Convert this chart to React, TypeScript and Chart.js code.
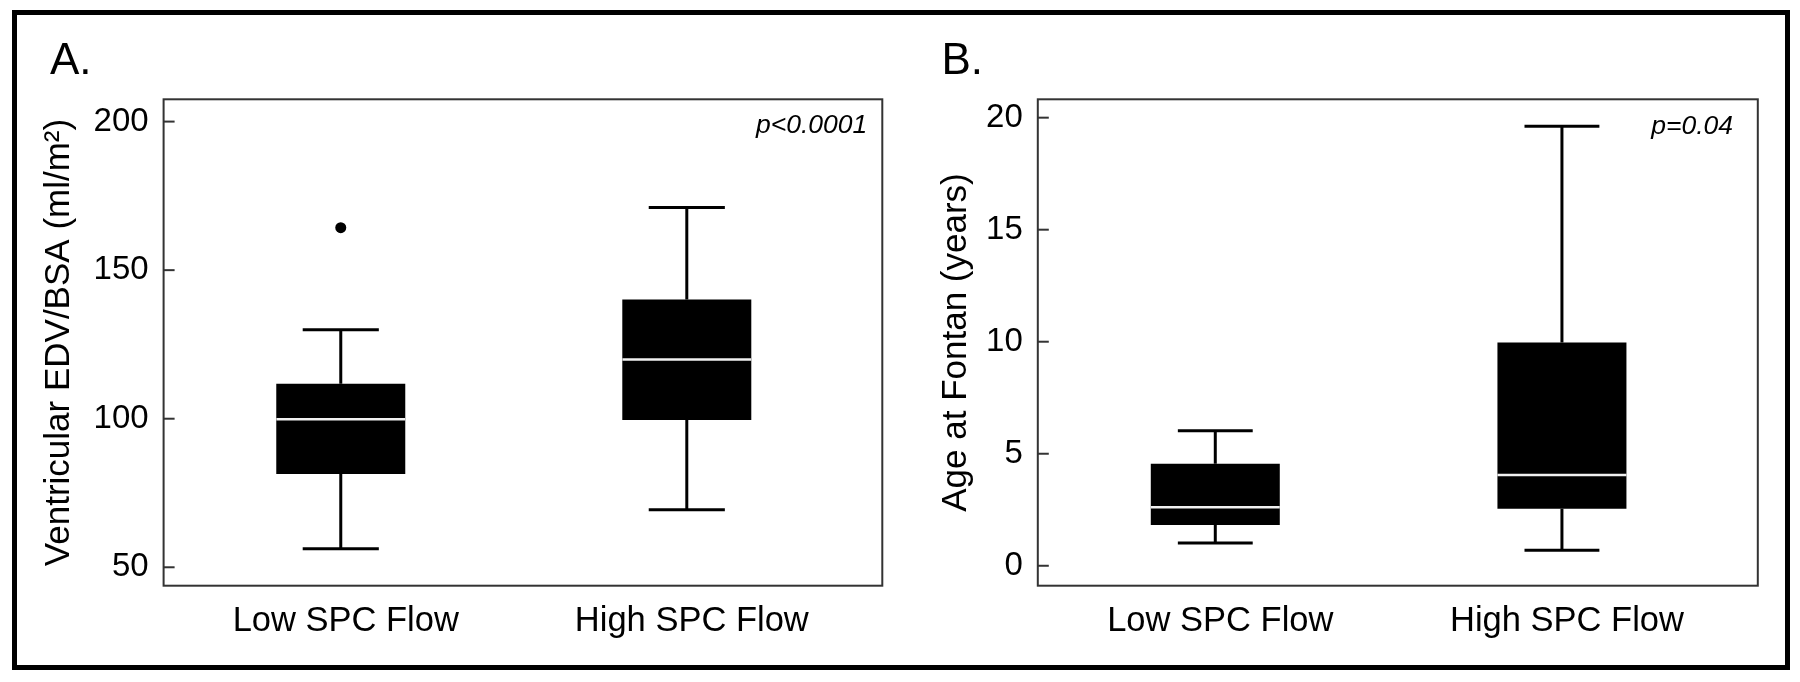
import React, { useEffect, useRef } from "react";
import { Chart, registerables } from "chart.js";

Chart.register(...registerables);

const FONT = "'Liberation Sans', Arial, Helvetica, sans-serif";

// Categories (shared by both panels)
const categories = ["Low SPC Flow", "High SPC Flow"];
const categoryPositions = [1, 2];

// Panel A: Ventricular EDV/BSA (ml/m²)
const edvLowerWhisker = [56.2, 69.4];
const edvQ1 = [81.4, 99.6];
const edvMedian = [99.8, 119.9];
const edvQ3 = [111.8, 140.1];
const edvUpperWhisker = [129.9, 171.1];
const edvOutliers: number[][] = [[164.3], []];
const edvTicks = [50, 100, 150, 200];

// Panel B: Age at Fontan (years)
const ageLowerWhisker = [1.02, 0.69];
const ageQ1 = [1.82, 2.54];
const ageMedian = [2.61, 4.05];
const ageQ3 = [4.55, 9.97];
const ageUpperWhisker = [6.03, 19.62];
const ageOutliers: number[][] = [[], []];
const ageTicks = [0, 5, 10, 15, 20];

type PanelSpec = {
  letter: string;
  yTitle: string;
  lower: number[];
  q1: number[];
  median: number[];
  q3: number[];
  upper: number[];
  outliers: number[][];
  ticks: number[];
  yMin: number;
  yMax: number;
  pText: string;
  pInset: number;
  pBaseline: number;
  titlePad: number;
  yAxisWidth: number;
  padRight: number;
  capHalf: number[];
  canvasLeft: number;
  letterLeft: number;
};

const panels: PanelSpec[] = [
  {
    letter: "A.",
    yTitle: "Ventricular EDV/BSA (ml/m²)",
    lower: edvLowerWhisker,
    q1: edvQ1,
    median: edvMedian,
    q3: edvQ3,
    upper: edvUpperWhisker,
    outliers: edvOutliers,
    ticks: edvTicks,
    yMin: 43.8,
    yMax: 207.5,
    pText: "p<0.0001",
    pInset: 15,
    pBaseline: 33.7,
    titlePad: 37.9,
    yAxisWidth: 163.6,
    padRight: 17.7,
    capHalf: [0.11, 0.11],
    canvasLeft: 0,
    letterLeft: 50,
  },
  {
    letter: "B.",
    yTitle: "Age at Fontan (years)",
    lower: ageLowerWhisker,
    q1: ageQ1,
    median: ageMedian,
    q3: ageQ3,
    upper: ageUpperWhisker,
    outliers: ageOutliers,
    ticks: ageTicks,
    yMin: -0.89,
    yMax: 20.82,
    pText: "p=0.04",
    pInset: 24.7,
    pBaseline: 34.7,
    titlePad: 34.9,
    yAxisWidth: 137.8,
    padRight: 42.2,
    capHalf: [0.108, 0.108],
    canvasLeft: 900,
    letterLeft: 941.5,
  },
];

const X_MIN = 0.488;
const X_MAX = 2.565;
const BOX_HALF = 0.186;

const panelDecor = {
  id: "panelDecor",
  afterDraw(chart: any, _args: any, opts: any) {
    const { ctx, chartArea } = chart;
    const { left, top, right, bottom } = chartArea;
    ctx.save();
    ctx.strokeStyle = "#333";
    ctx.lineWidth = 2;
    ctx.strokeRect(left, top, right - left, bottom - top);
    const ys = chart.scales.y;
    ys.ticks.forEach((t: any) => {
      const py = ys.getPixelForValue(t.value);
      ctx.beginPath();
      ctx.moveTo(left, py);
      ctx.lineTo(left + 11, py);
      ctx.stroke();
    });
    ctx.font = `italic 26.5px ${FONT}`;
    ctx.fillStyle = "#000";
    ctx.textAlign = "right";
    ctx.textBaseline = "alphabetic";
    ctx.fillText(opts.text, right - opts.inset, top + opts.baseline);
    ctx.restore();
  },
};

function buildConfig(spec: PanelSpec): any {
  const datasets: any[] = [];
  datasets.push({
    type: "bar",
    data: categoryPositions.map((x, i) => ({ x, y: [spec.q1[i], spec.q3[i]] })),
    backgroundColor: "#000",
    borderWidth: 0,
    barThickness: 129,
    inflateAmount: 0,
    order: 3,
  });
  const line = (pts: any[], color: string, width: number, order: number) => ({
    type: "line",
    data: pts,
    borderColor: color,
    backgroundColor: color,
    borderWidth: width,
    pointRadius: 0,
    pointHoverRadius: 0,
    fill: false,
    tension: 0,
    order,
  });
  categoryPositions.forEach((x, i) => {
    const c = spec.capHalf[i];
    datasets.push(line([{ x, y: spec.q3[i] }, { x, y: spec.upper[i] }], "#000", 3, 2));
    datasets.push(line([{ x, y: spec.q1[i] }, { x, y: spec.lower[i] }], "#000", 3, 2));
    datasets.push(line([{ x: x - c, y: spec.upper[i] }, { x: x + c, y: spec.upper[i] }], "#000", 3, 2));
    datasets.push(line([{ x: x - c, y: spec.lower[i] }, { x: x + c, y: spec.lower[i] }], "#000", 3, 2));
    datasets.push(
      line([{ x: x - BOX_HALF, y: spec.median[i] }, { x: x + BOX_HALF, y: spec.median[i] }], "#f0f0f0", 2.5, 0)
    );
  });
  datasets.push({
    type: "scatter",
    data: spec.outliers.flatMap((arr, i) => arr.map((v) => ({ x: categoryPositions[i], y: v }))),
    pointRadius: 5.5,
    pointHoverRadius: 5.5,
    backgroundColor: "#000",
    borderWidth: 0,
    order: 1,
  });

  return {
    type: "bar",
    data: { datasets },
    plugins: [panelDecor],
    options: {
      responsive: false,
      animation: false,
      devicePixelRatio: 1,
      events: [],
      layout: {
        padding: { top: 99.3, right: spec.padRight, left: 0, bottom: 682 - 585.7 - 60 },
      },
      plugins: {
        legend: { display: false },
        tooltip: { enabled: false },
        title: { display: false },
        panelDecor: { text: spec.pText, inset: spec.pInset, baseline: spec.pBaseline },
      },
      scales: {
        x: {
          type: "linear",
          min: X_MIN,
          max: X_MAX,
          offset: false,
          grid: { display: false, drawTicks: false, offset: false },
          border: { display: false },
          afterBuildTicks: (scale: any) => {
            scale.ticks = categoryPositions.map((v) => ({ value: v }));
          },
          afterFit: (scale: any) => {
            scale.height = 60;
          },
          ticks: {
            autoSkip: false,
            maxRotation: 0,
            minRotation: 0,
            padding: 14.6,
            labelOffset: 5,
            color: "#000",
            font: { family: FONT, size: 34.5 },
            callback: (value: any) => {
              const i = categoryPositions.indexOf(Number(value));
              return i >= 0 ? categories[i] : "";
            },
          },
        },
        y: {
          type: "linear",
          min: spec.yMin,
          max: spec.yMax,
          grid: { display: false, drawTicks: false },
          border: { display: false },
          afterBuildTicks: (scale: any) => {
            scale.ticks = spec.ticks.map((v) => ({ value: v }));
          },
          afterFit: (scale: any) => {
            scale.width = spec.yAxisWidth;
          },
          ticks: {
            padding: 15,
            color: "#000",
            font: { family: FONT, size: 33 },
            callback: (value: any) => String(value),
          },
          title: {
            display: true,
            text: spec.yTitle,
            color: "#000",
            font: { family: FONT, size: 35 },
            padding: { top: spec.titlePad, bottom: 0 },
          },
        },
      },
    },
  };
}

function Panel({ spec }: { spec: PanelSpec }) {
  const ref = useRef<HTMLCanvasElement>(null);
  useEffect(() => {
    if (!ref.current) return;
    const chart = new Chart(ref.current, buildConfig(spec));
    return () => chart.destroy();
  }, [spec]);
  return (
    <canvas
      ref={ref}
      width={900}
      height={682}
      style={{ position: "absolute", left: spec.canvasLeft, top: 0, width: 900, height: 682, display: "block" }}
    />
  );
}

export default function App() {
  return (
    <div
      style={{
        position: "fixed",
        left: 0,
        top: 0,
        width: 1800,
        height: 682,
        background: "#fff",
        overflow: "hidden",
      }}
    >
      {panels.map((p) => (
        <Panel key={p.letter} spec={p} />
      ))}
      {panels.map((p) => (
        <div
          key={"l" + p.letter}
          style={{
            position: "absolute",
            left: p.letterLeft,
            top: 37.25,
            fontFamily: FONT,
            fontSize: 44,
            lineHeight: "44px",
            color: "#000",
            whiteSpace: "nowrap",
          }}
        >
          {p.letter}
        </div>
      ))}
      <div
        style={{
          position: "absolute",
          left: 12,
          top: 10,
          width: 1778,
          height: 660,
          boxSizing: "border-box",
          border: "5px solid #000",
          pointerEvents: "none",
        }}
      />
    </div>
  );
}
